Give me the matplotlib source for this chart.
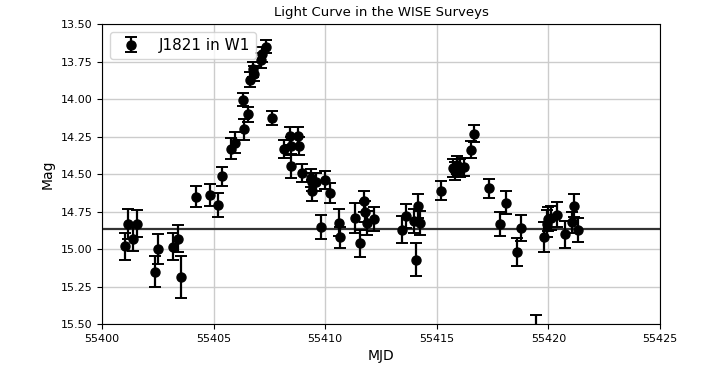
import matplotlib
matplotlib.use('Agg')
import matplotlib.pyplot as plt
import numpy as np

# WISE W1 photometry of J1821
mjd = np.array([55401.03, 55401.18, 55401.41, 55401.59, 55402.38, 55402.53,
                55403.16, 55403.40, 55403.55, 55404.21, 55404.86, 55405.19,
                55405.38, 55405.79, 55405.94, 55406.35, 55406.33, 55406.55,
                55406.62, 55406.80, 55406.77, 55407.13, 55407.18, 55407.33,
                55407.63, 55408.15, 55408.42, 55408.48, 55408.48, 55408.78,
                55408.83, 55408.98, 55409.35, 55409.43, 55409.43, 55409.58,
                55410.00, 55410.21, 55409.80, 55410.60, 55410.66, 55411.35,
                55411.57, 55411.75, 55411.80, 55411.87, 55412.20, 55413.43,
                55413.62, 55414.00, 55414.18, 55414.24, 55414.07, 55415.17,
                55415.72, 55415.80, 55415.92, 55416.02, 55416.22, 55416.55,
                55416.65, 55417.34, 55417.82, 55418.09, 55418.61, 55418.79,
                55419.44, 55419.81, 55419.92, 55420.00, 55420.11, 55420.37,
                55420.74, 55421.04, 55421.16, 55421.31])
mag = np.array([14.98, 14.83, 14.93, 14.83, 15.15, 15.00,
                14.985, 14.93, 15.185, 14.65, 14.64, 14.705,
                14.515, 14.33, 14.29, 14.20, 14.003, 14.10,
                13.87, 13.83, 13.80, 13.74, 13.70, 13.65,
                14.125, 14.335, 14.243, 14.31, 14.443, 14.248,
                14.315, 14.49, 14.525, 14.55, 14.61, 14.55,
                14.537, 14.625, 14.85, 14.825, 14.92, 14.79,
                14.96, 14.68, 14.75, 14.825, 14.80, 14.87,
                14.78, 14.81, 14.71, 14.825, 15.07, 14.61,
                14.46, 14.48, 14.437, 14.46, 14.45, 14.337,
                14.23, 14.595, 14.83, 14.69, 15.02, 14.86,
                15.60, 14.92, 14.83, 14.80, 14.79, 14.77,
                14.90, 14.82, 14.71, 14.87])
err = np.array([0.09, 0.10, 0.08, 0.09, 0.105, 0.10,
                0.09, 0.09, 0.14, 0.07, 0.075, 0.08,
                0.065, 0.07, 0.07, 0.07, 0.045, 0.05,
                0.05, 0.05, 0.05, 0.05, 0.05, 0.045,
                0.045, 0.06, 0.06, 0.06, 0.08, 0.06,
                0.06, 0.06, 0.06, 0.06, 0.07, 0.06,
                0.06, 0.065, 0.08, 0.09, 0.07, 0.10,
                0.09, 0.07, 0.07, 0.08, 0.08, 0.09,
                0.08, 0.08, 0.08, 0.08, 0.11, 0.065,
                0.06, 0.06, 0.06, 0.06, 0.06, 0.055,
                0.055, 0.065, 0.08, 0.075, 0.095, 0.085,
                0.163, 0.10, 0.09, 0.08, 0.08, 0.085,
                0.09, 0.07, 0.075, 0.08])
mean_mag = 14.865

f = plt.figure(figsize=(7.01, 3.83), dpi=100)
ax = f.add_axes([0.1455, 0.154, 0.796, 0.783])
ax.errorbar(mjd, mag, yerr=err, fmt='o', color='k', ms=6.5, elinewidth=1.6,
            capsize=4, capthick=1.4, label='J1821 in W1', zorder=3)
ax.axhline(mean_mag, color='#333333', lw=1.6, zorder=2)

ax.set_xlim(55400, 55425)
ax.set_ylim(15.5, 13.5)
ax.set_xticks(np.arange(55400, 55426, 5))
ax.set_yticks(np.arange(13.5, 15.51, 0.25))
ax.yaxis.set_major_formatter(matplotlib.ticker.FormatStrFormatter('%.2f'))
ax.grid(True, color='#cccccc', lw=1.0)
ax.set_axisbelow(True)
ax.tick_params(labelsize=8)
ax.set_xlabel('MJD', fontsize=10)
ax.set_ylabel('Mag', fontsize=10)
ax.set_title('Light Curve in the WISE Surveys', fontsize=9.5)
ax.legend(loc='upper left', fontsize=11)

f.savefig('out.png', dpi=100)
